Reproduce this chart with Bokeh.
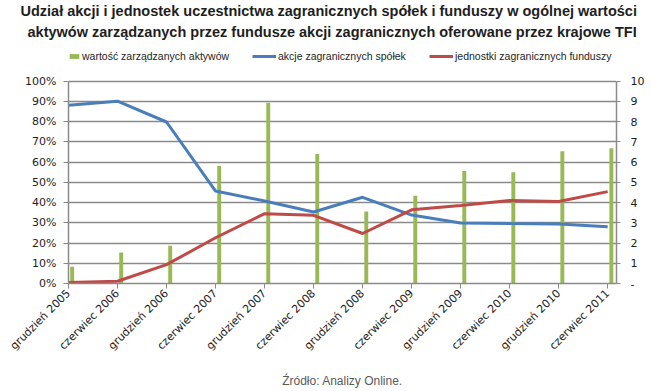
from bokeh.plotting import figure
from bokeh.models import (Range1d, LinearAxis, FixedTicker, PrintfTickFormatter,
                          Legend, LegendItem, Title, ColumnDataSource)
from bokeh.embed import file_html
from bokeh.resources import INLINE
import math

categories = ["grudzień 2005", "czerwiec 2006", "grudzień 2006", "czerwiec 2007",
              "grudzień 2007", "czerwiec 2008", "grudzień 2008", "czerwiec 2009",
              "grudzień 2009", "czerwiec 2010", "grudzień 2010", "czerwiec 2011"]
aktywa = [0.83, 1.53, 1.87, 5.8, 8.93, 6.4, 3.56, 4.34, 5.56, 5.5, 6.54, 6.68]
akcje = [88.1, 90.1, 79.8, 45.7, 40.8, 35.3, 42.6, 33.8, 29.9, 29.6, 29.4, 28.0]
jednostki = [0.5, 1.1, 9.3, 22.6, 34.5, 33.7, 24.7, 36.4, 38.5, 41.0, 40.5, 45.4]
left_ticks = list(range(0, 101, 10))
right_ticks = list(range(0, 11))

GRID = "#8a8a8a"
BLUE = "#4A7EBB"
RED = "#BE4B48"
GREEN = "#98B954"
TXT = "#1e1e1e"

W, H = 652, 391
LEFT, RIGHT, TOP, BOTTOM = 68, 36, 48, 108
FRAME_H = H - TOP - BOTTOM
YMAX = 100 * FRAME_H / 205.0

idx = list(range(len(categories)))
bar_x = [i + 0.075 for i in idx]
src = ColumnDataSource(dict(x=idx, bx=bar_x, aktywa=aktywa, akcje=akcje, jednostki=jednostki))

p = figure(width=W, height=H, output_backend="svg", toolbar_location=None,
           x_range=Range1d(0, 11.18), y_range=Range1d(0, YMAX),
           min_border_left=LEFT, min_border_right=RIGHT, min_border_top=TOP,
           min_border_bottom=BOTTOM)
p.outline_line_color = None
p.extra_y_ranges = {"v": Range1d(0, YMAX / 10.0)}

bars = p.vbar(x="bx", top="aktywa", width=0.08, source=src, y_range_name="v",
              fill_color=GREEN, line_color=None)
l1 = p.line(x="x", y="akcje", source=src, line_color=BLUE, line_width=3)
l2 = p.line(x="x", y="jednostki", source=src, line_color=RED, line_width=3)

p.xgrid.visible = False
p.ygrid.grid_line_color = GRID
p.ygrid.grid_line_width = 1.5
p.ygrid.ticker = FixedTicker(ticks=left_ticks)

ax = p.xaxis[0]
ax.ticker = FixedTicker(ticks=idx)
ax.major_label_overrides = {i: c for i, c in zip(idx, categories)}
ax.major_label_orientation = math.pi / 4
ax.major_label_standoff = 3
ax.minor_tick_line_color = None
ax.major_tick_in = 0
ax.major_tick_out = 5
ax.axis_line_color = GRID
ax.axis_line_width = 1.5
ax.major_tick_line_color = GRID
ax.major_label_text_font = "DejaVu Sans"
ax.major_label_text_font_size = "11px"
ax.major_label_text_color = TXT
ax.axis_label = "Źródło: Analizy Online."
ax.axis_label_text_font = "Liberation Sans"
ax.axis_label_text_font_style = "normal"
ax.axis_label_text_font_size = "12px"
ax.axis_label_text_color = "#595959"
ax.axis_label_standoff = 14

ay = p.yaxis[0]
ay.ticker = FixedTicker(ticks=left_ticks)
ay.bounds = (0, 100)
ay.formatter = PrintfTickFormatter(format="%d%%")
ay.minor_tick_line_color = None
ay.major_tick_in = 0
ay.major_tick_out = 5
ay.major_label_standoff = 7
ay.axis_line_color = GRID
ay.axis_line_width = 1.5
ay.major_tick_line_color = GRID
ay.major_label_text_font = "DejaVu Sans"
ay.major_label_text_font_size = "11px"
ay.major_label_text_color = TXT

ar = LinearAxis(y_range_name="v", ticker=FixedTicker(ticks=right_ticks), bounds=(0, 10))
ar.major_label_overrides = {0: "-"}
ar.minor_tick_line_color = None
ar.major_tick_in = 0
ar.major_tick_out = 4
ar.axis_line_color = GRID
ar.axis_line_width = 1.5
ar.major_tick_line_color = GRID
ar.major_label_text_font = "DejaVu Sans"
ar.major_label_text_font_size = "11px"
ar.major_label_text_color = TXT
ar.major_label_standoff = 10
p.add_layout(ar, "right")

def make_legend(label, rend, gx, gw, gh):
    lg = Legend(items=[LegendItem(label=label, renderers=[rend])],
                location=(gx, 221), orientation="horizontal",
                label_text_font="Liberation Sans", label_text_font_size="10.5px",
                label_text_color=TXT, label_height=12,
                glyph_width=gw, glyph_height=gh, label_standoff=2,
                padding=0, margin=0, border_line_color=None, background_fill_alpha=0)
    p.add_layout(lg, "center")

make_legend("wartość zarządzanych aktywów", bars, 0, 12, 6)
make_legend("akcje zagranicznych spółek", l1, 252 - LEFT, 24, 8)
make_legend("jednostki zagranicznych funduszy", l2, 429 - LEFT, 24, 8)

spacer = Title(text=" ", text_font_size="1px", standoff=6)
t2 = Title(text="aktywów zarządzanych przez fundusze akcji zagranicznych oferowane przez krajowe TFI",
           align="left", offset=27 - LEFT, text_font="Liberation Sans", text_font_style="bold",
           text_font_size="14.5px", text_color=TXT, standoff=6)
t1 = Title(text="Udział akcji i jednostek uczestnictwa zagranicznych spółek i funduszy w ogólnej wartości",
           align="left", offset=20 - LEFT, text_font="Liberation Sans", text_font_style="bold",
           text_font_size="14.5px", text_color=TXT, standoff=0)
p.add_layout(spacer, "above")
p.add_layout(t2, "above")
p.add_layout(t1, "above")

open("out.html", "w").write(file_html(p, INLINE))
